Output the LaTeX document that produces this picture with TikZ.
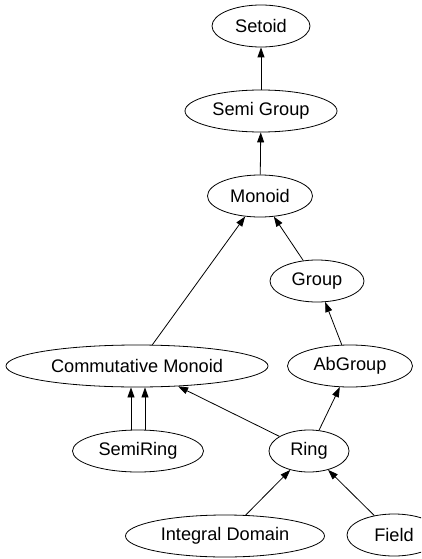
\documentclass[tikz,border=0pt]{standalone}
\usepackage{fontspec}
\setmainfont{Liberation Sans}
\usetikzlibrary{shapes.geometric,arrows.meta,calc}
\begin{document}
\begin{tikzpicture}[x=1pt,y=-1pt,
  nd/.style={ellipse,draw,line width=0.8pt,inner sep=0pt,minimum height=42pt,
    font=\fontsize{18.2}{20}\selectfont},
  edge/.style={line width=0.8pt,-{Triangle[length=10pt,width=7pt]}}]
\useasboundingbox (0,0) rectangle (421,559);
\clip (0,0) rectangle (421,559);
\node[nd,minimum width=98pt]  (setoid) at (261,26)  {Setoid};
\node[nd,minimum width=152pt] (sg)     at (261,111) {Semi Group};
\node[nd,minimum width=105pt] (mo)     at (260,196) {Monoid};
\node[nd,minimum width=94pt]  (gr)     at (317,281) {Group};
\node[nd,minimum width=125pt] (ab)     at (350,366) {AbGroup};
\node[nd,minimum width=262pt] (cm)     at (137,366) {Commutative Monoid};
\node[nd,minimum width=131pt] (sr)     at (138,451) {SemiRing};
\node[nd,minimum width=80pt]  (ring)   at (309,451) {Ring};
\node[nd,minimum width=199pt] (id)     at (225,536) {Integral Domain};
\node[nd,minimum width=94pt]  (field)  at (394,535) {Field};
\draw[edge] (sg) -- (setoid);
\draw[edge] (mo) -- (sg);
\draw[edge] (cm) -- (mo);
\draw[edge] (gr) -- (mo);
\draw[edge] (ab) -- (gr);
\draw[edge] (ring) -- (ab);
\draw[edge] (ring) -- (cm);
\draw[edge] (id) -- (ring);
\draw[edge] (field) -- (ring);
\coordinate (srl) at ($(sr.north)+(-7,0)$);
\coordinate (srr) at ($(sr.north)+(7,0)$);
\draw[edge] (srl) -- (srl |- cm.south);
\draw[edge] (srr) -- (srr |- cm.south);
\end{tikzpicture}
\end{document}
